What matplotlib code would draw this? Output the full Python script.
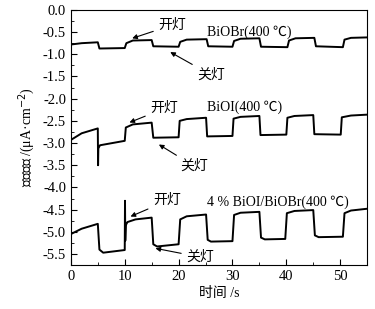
import numpy as np
import matplotlib.pyplot as plt
import matplotlib

matplotlib.rcParams["font.family"] = ["Liberation Serif", "Noto Sans CJK SC", "DejaVu Sans"]
matplotlib.rcParams["font.size"] = 10
matplotlib.rcParams["axes.unicode_minus"] = True

# 读图得到的关键点 (时间 s, 电流密度 μA·cm^-2)
t_br = [0, 2, 5, 5.3, 10, 10.3, 11.5, 15, 15.3, 20, 20.3, 21.5, 25.2, 25.5, 30, 30.3, 31.5, 35,
        35.3, 40.2, 40.5, 41.7, 45.2, 45.5, 50.5, 50.8, 52, 55]
j_br = [-0.78, -0.75, -0.73, -0.87, -0.86, -0.75, -0.69, -0.68, -0.82, -0.83, -0.72, -0.67, -0.66,
        -0.82, -0.83, -0.70, -0.65, -0.64, -0.83, -0.84, -0.69, -0.64, -0.63, -0.82, -0.84, -0.67,
        -0.63, -0.62]

t_bi = [0, 2, 5, 5.05, 5.1, 5.4, 10, 10.2, 11.5, 15, 15.3, 20, 20.2, 21.5, 25.1, 25.3, 30, 30.2,
        31.5, 35, 35.2, 40, 40.2, 41.5, 45, 45.2, 50.1, 50.3, 52, 55]
j_bi = [-2.93, -2.78, -2.67, -3.5, -3.12, -3.05, -2.95, -2.65, -2.58, -2.54, -2.88, -2.87, -2.50,
        -2.46, -2.43, -2.85, -2.84, -2.45, -2.41, -2.39, -2.82, -2.81, -2.43, -2.39, -2.37, -2.80,
        -2.81, -2.42, -2.38, -2.36]

t_mix = [0, 2, 5, 5.3, 6, 10, 10.05, 10.1, 10.2, 10.5, 12, 15, 15.3, 16, 20, 20.3, 21.5, 25.1,
         25.4, 26, 30, 30.3, 31.5, 35, 35.3, 36, 39.8, 40.1, 41.5, 45, 45.3, 46, 50.5, 50.8, 52, 55]
j_mix = [-5.05, -4.93, -4.82, -5.40, -5.47, -5.41, -4.30, -5.20, -4.85, -4.78, -4.72, -4.68, -5.28,
         -5.33, -5.28, -4.72, -4.65, -4.61, -5.18, -5.22, -5.21, -4.62, -4.57, -4.55, -5.13, -5.17,
         -5.16, -4.58, -4.53, -4.51, -5.08, -5.12, -5.11, -4.58, -4.52, -4.48]

fig = plt.figure(figsize=(3.75, 3.09), dpi=100)
ax = fig.add_axes([0.189, 0.142, 0.79, 0.826])

for t, j in [(t_br, j_br), (t_bi, j_bi), (t_mix, j_mix)]:
    ax.plot(t, j, color="black", lw=1.4)

ax.set_xlim(0, 55)
ax.set_ylim(-5.75, 0)
ax.set_xticks(np.arange(0, 51, 10))
ax.set_xticks(np.arange(5, 56, 10), minor=True)
ax.set_yticks(np.arange(-5.5, 0.01, 0.5))
ax.set_yticks(np.arange(-5.75, 0.01, 0.25), minor=True)
ax.yaxis.set_major_formatter(matplotlib.ticker.FormatStrFormatter("%.1f"))
ax.tick_params(direction="in", which="both", top=False, right=False, labelsize=10.5)
ax.tick_params(which="major", length=4)
ax.tick_params(which="minor", length=2.5)

ax.set_xlabel("时间 /s", fontsize=10, labelpad=3)
ax.set_ylabel("电流密度 /(μA·cm$^{-2}$)", fontsize=10, labelpad=4)

ann = dict(arrowstyle="-|>", color="black", lw=0.8, mutation_scale=7)
fs = 10
ax.annotate("开灯", xy=(10.9, -0.66), xytext=(16.3, -0.34), fontsize=fs, va="center", arrowprops=ann)
ax.annotate("关灯", xy=(18, -0.92), xytext=(23.5, -1.47), fontsize=fs, va="center", arrowprops=ann)
ax.text(25.2, -0.5, "BiOBr(400 ℃)", fontsize=fs, va="center")

ax.annotate("开灯", xy=(10.4, -2.56), xytext=(14.8, -2.22), fontsize=fs, va="center", arrowprops=ann)
ax.annotate("关灯", xy=(15.9, -3.0), xytext=(20.3, -3.52), fontsize=fs, va="center", arrowprops=ann)
ax.text(25.2, -2.19, "BiOI(400 ℃)", fontsize=fs, va="center")

ax.annotate("开灯", xy=(10.6, -4.68), xytext=(15.3, -4.3), fontsize=fs, va="center", arrowprops=ann)
ax.annotate("关灯", xy=(15.2, -5.36), xytext=(21.5, -5.57), fontsize=fs, va="center", arrowprops=ann)
ax.text(25.2, -4.33, "4 % BiOI/BiOBr(400 ℃)", fontsize=fs, va="center")

plt.savefig("out.png", dpi=100)
